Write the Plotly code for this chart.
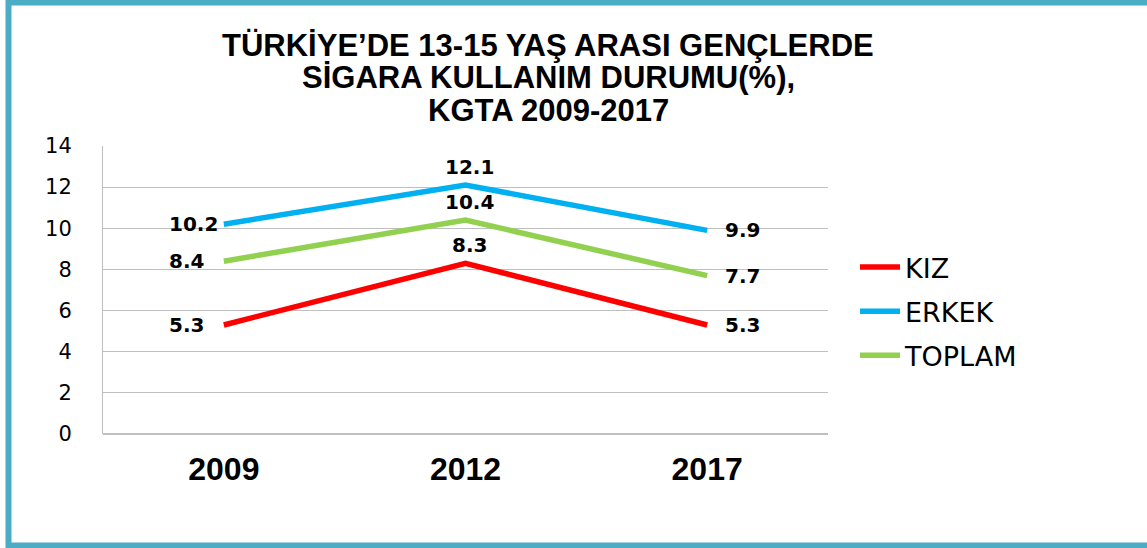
import plotly.graph_objects as go

years = ["2009", "2012", "2017"]
kiz = [5.3, 8.3, 5.3]
erkek = [10.2, 12.1, 9.9]
toplam = [8.4, 10.4, 7.7]
series_names = ["KIZ", "ERKEK", "TOPLAM"]
series_colors = ["#FF0000", "#00B0F0", "#92D050"]
title_lines = ["TÜRKİYE’DE 13-15 YAŞ ARASI GENÇLERDE", "SİGARA KULLANIM DURUMU(%),", "KGTA 2009-2017"]
y_ticks = [0, 2, 4, 6, 8, 10, 12, 14]

W, H = 1147, 548
L, R, T, B = 103, 828, 146, 434

def px_x(px):
    return (px - L) / (R - L)

def px_y(py):
    return (B - py) / (B - T)

fig = go.Figure()
series = [kiz, erkek, toplam]
for i, (name, vals, col) in enumerate(zip(series_names, series, series_colors)):
    fig.add_trace(go.Scatter(
        x=years, y=vals, name=name, mode="lines",
        line=dict(color=col, width=5.5),
        legendgroup=f"g{i}",
    ))

ann = []
label_font = dict(family="DejaVu Sans", size=20, color="#000000")
for vals in series:
    for j, v in enumerate(vals):
        if j == 0:
            ann.append(dict(x=j, y=v, text=f"<b>{v}</b>", showarrow=False,
                            xanchor="left", yanchor="middle", xshift=-57, font=label_font))
        elif j == 1:
            ann.append(dict(x=j, y=v, text=f"<b>{v}</b>", showarrow=False,
                            xanchor="center", yanchor="bottom", yshift=4, xshift=4, font=label_font))
        else:
            ann.append(dict(x=j, y=v, text=f"<b>{v}</b>", showarrow=False,
                            xanchor="left", yanchor="middle", xshift=16, font=label_font))

for k, (line, cy) in enumerate(zip(title_lines, [45, 78, 110])):
    ann.append(dict(xref="paper", yref="paper", x=px_x(548), y=px_y(cy),
                    text=f"<b>{line}</b>", showarrow=False, xanchor="center", yanchor="middle",
                    font=dict(family="Liberation Sans", size=31, color="#000000")))

shapes = [dict(type="rect", xref="paper", yref="paper",
               x0=px_x(8.5), x1=px_x(1160), y0=px_y(545.5), y1=px_y(2.5),
               line=dict(color="#4BACC6", width=6), fillcolor="rgba(0,0,0,0)", layer="above")]

fig.update_layout(
    width=W, height=H,
    margin=dict(l=L, r=W - R, t=T, b=H - B, pad=0),
    paper_bgcolor="white", plot_bgcolor="white",
    annotations=ann, shapes=shapes,
    showlegend=True,
    legend=dict(x=px_x(855), y=px_y(243), xanchor="left", yanchor="top",
                font=dict(family="DejaVu Sans", size=27, color="#000000"),
                tracegroupgap=6, bgcolor="rgba(0,0,0,0)", itemwidth=40),
    xaxis=dict(type="category", range=[-0.5, 2.5], showgrid=False,
               showline=False, zeroline=False, ticks="",
               tickfont=dict(family="Liberation Sans", size=32, color="#000000"),
               tickvals=years, ticktext=[f"<b>{y}</b>" for y in years],
               ticklabelstandoff=13),
    yaxis=dict(range=[0, 14], tickvals=y_ticks, showgrid=True, gridcolor="#BFBFBF", gridwidth=1,
               showline=True, linecolor="#BFBFBF", linewidth=1, zeroline=True, zerolinecolor="#BFBFBF",
               ticks="", tickfont=dict(family="DejaVu Sans", size=21, color="#000000"),
               ticklabelstandoff=26),
)

fig.write_html("out.html")
